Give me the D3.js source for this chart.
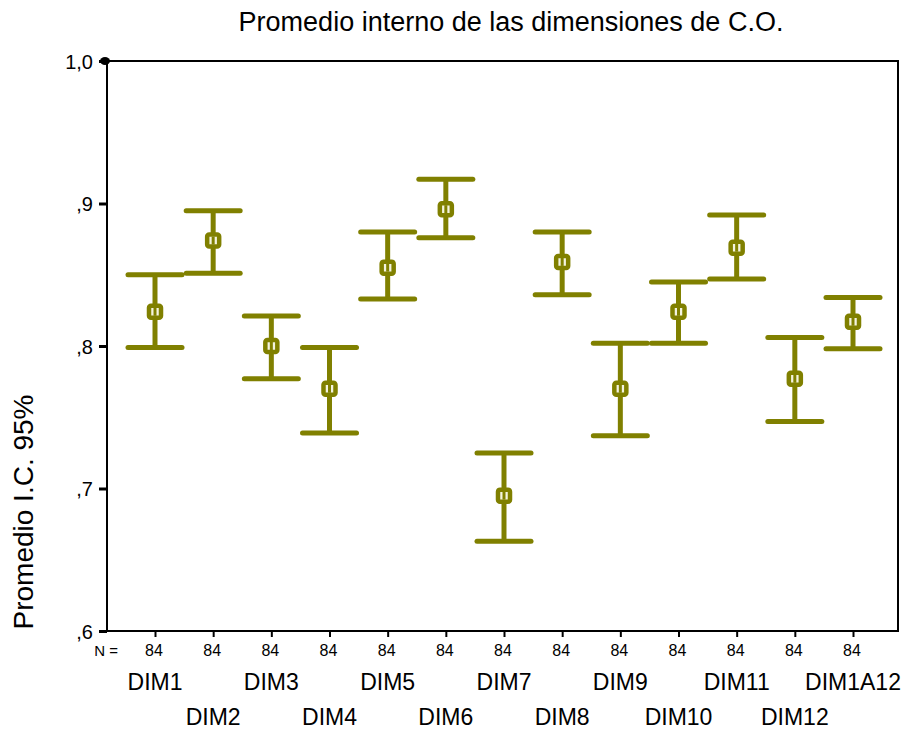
<!DOCTYPE html>
<html>
<head>
<meta charset="utf-8">
<script src="https://cdn.jsdelivr.net/npm/d3@7"></script>
<style>
  body { margin: 0; background: #fff; }
  text { font-family: "Liberation Sans", Arial, sans-serif; }
</style>
</head>
<body>
<div id="vis"></div>
<script>
var width = 910;
var height = 730;

// data
var categories = ["DIM1", "DIM2", "DIM3", "DIM4", "DIM5", "DIM6", "DIM7", "DIM8", "DIM9", "DIM10", "DIM11", "DIM12", "DIM1A12"];
var means = [0.824, 0.874, 0.800, 0.770, 0.855, 0.896, 0.695, 0.859, 0.770, 0.824, 0.869, 0.777, 0.817];
var upper = [0.850, 0.895, 0.821, 0.799, 0.880, 0.917, 0.725, 0.880, 0.802, 0.845, 0.892, 0.806, 0.834];
var lower = [0.799, 0.851, 0.777, 0.739, 0.833, 0.876, 0.663, 0.836, 0.737, 0.802, 0.847, 0.747, 0.798];
var counts = [84, 84, 84, 84, 84, 84, 84, 84, 84, 84, 84, 84, 84];
var yTicks = [0.6, 0.7, 0.8, 0.9, 1.0];
var yTickLabels = [",6", ",7", ",8", ",9", "1,0"];

var plotLeft = 107, plotRight = 898, plotTop = 61, plotBottom = 631;
var olive = "#808000";

var canvas = d3.select("#vis")
    .append("svg")
    .attr("width", width)
    .attr("height", height);

var x = d3.scalePoint()
    .domain(categories)
    .range([155, 853]);

var y = d3.scaleLinear()
    .domain([0.6, 1.0])
    .range([plotBottom, plotTop]);

// frame
canvas.append("rect")
    .attr("x", plotLeft)
    .attr("y", plotTop)
    .attr("width", plotRight - plotLeft)
    .attr("height", plotBottom - plotTop)
    .attr("fill", "none")
    .attr("stroke", "black")
    .attr("stroke-width", 2);

// y axis
var yAxis = d3.axisLeft(y)
    .tickValues(yTicks)
    .tickFormat(function(d, i) { return yTickLabels[i]; })
    .tickSize(8)
    .tickPadding(6);

var gy = canvas.append("g")
    .attr("transform", "translate(" + plotLeft + ",0)")
    .call(yAxis);
gy.select(".domain").remove();
gy.selectAll("line").attr("stroke-width", 3);
gy.selectAll("text")
    .style("font-size", "20px")
    .attr("dy", "0.36em")
    .attr("fill", "black");

canvas.append("ellipse")
    .attr("cx", plotLeft - 2)
    .attr("cy", y(1.0))
    .attr("rx", 5)
    .attr("ry", 4)
    .attr("fill", "black");

// x axis ticks
var xAxis = d3.axisBottom(x)
    .tickSize(6)
    .tickFormat("");
var gx = canvas.append("g")
    .attr("transform", "translate(0," + plotBottom + ")")
    .call(xAxis);
gx.select(".domain").remove();
gx.selectAll("line").attr("stroke-width", 2);

// N row
canvas.append("text")
    .attr("x", 118)
    .attr("y", 656)
    .attr("text-anchor", "end")
    .style("font-size", "15px")
    .text("N =");

canvas.selectAll(".nlab")
    .data(counts)
    .enter().append("text")
    .attr("class", "nlab")
    .attr("x", function(d, i) { return x(categories[i]) - 1; })
    .attr("y", 656)
    .attr("text-anchor", "middle")
    .style("font-size", "16px")
    .text(function(d) { return d; });

// category labels in two rows
canvas.selectAll(".clab")
    .data(categories)
    .enter().append("text")
    .attr("class", "clab")
    .attr("x", function(d) { return x(d); })
    .attr("y", function(d, i) { return i % 2 == 0 ? 690 : 725; })
    .attr("text-anchor", "middle")
    .style("font-size", "23px")
    .text(function(d) { return d; });

// error bars
var bars = canvas.selectAll(".bar")
    .data(categories)
    .enter().append("g")
    .attr("class", "bar");

var capHalf = 27;

bars.append("line")
    .attr("x1", function(d) { return x(d); })
    .attr("x2", function(d) { return x(d); })
    .attr("y1", function(d, i) { return y(upper[i]); })
    .attr("y2", function(d, i) { return y(lower[i]); })
    .attr("stroke", olive)
    .attr("stroke-width", 5);

bars.append("line")
    .attr("x1", function(d) { return x(d) - capHalf; })
    .attr("x2", function(d) { return x(d) + capHalf; })
    .attr("y1", function(d, i) { return y(upper[i]); })
    .attr("y2", function(d, i) { return y(upper[i]); })
    .attr("stroke", olive)
    .attr("stroke-width", 5)
    .attr("stroke-linecap", "round");

bars.append("line")
    .attr("x1", function(d) { return x(d) - capHalf; })
    .attr("x2", function(d) { return x(d) + capHalf; })
    .attr("y1", function(d, i) { return y(lower[i]); })
    .attr("y2", function(d, i) { return y(lower[i]); })
    .attr("stroke", olive)
    .attr("stroke-width", 5)
    .attr("stroke-linecap", "round");

bars.append("rect")
    .attr("x", function(d) { return x(d) - 6; })
    .attr("y", function(d, i) { return y(means[i]) - 6; })
    .attr("width", 12)
    .attr("height", 12)
    .attr("rx", 2)
    .attr("fill", "#f4f4e0")
    .attr("stroke", olive)
    .attr("stroke-width", 4.5);

bars.append("line")
    .attr("x1", function(d) { return x(d); })
    .attr("x2", function(d) { return x(d); })
    .attr("y1", function(d, i) { return y(means[i]) - 4; })
    .attr("y2", function(d, i) { return y(means[i]) + 4; })
    .attr("stroke", olive)
    .attr("stroke-width", 3);

// titles
canvas.append("text")
    .attr("x", 511)
    .attr("y", 31)
    .attr("text-anchor", "middle")
    .style("font-size", "27px")
    .text("Promedio interno de las dimensiones de C.O.");

canvas.append("text")
    .attr("transform", "translate(33,512) rotate(-90)")
    .attr("text-anchor", "middle")
    .style("font-size", "28px")
    .text("Promedio I.C. 95%");
</script>
</body>
</html>
